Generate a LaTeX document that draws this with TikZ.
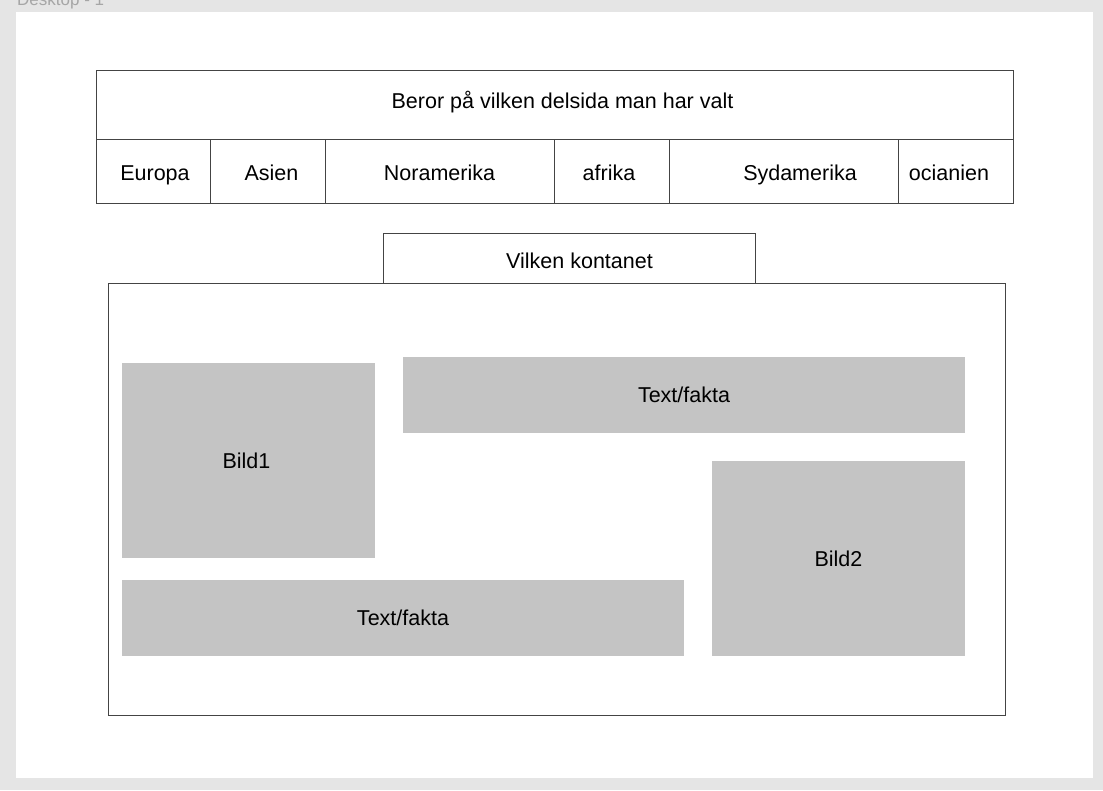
\documentclass[tikz,border=0pt]{standalone}
\usepackage{fontspec}
\setmainfont{Liberation Sans}
\usetikzlibrary{positioning}

\definecolor{canvas}{HTML}{E5E5E5}
\definecolor{placeholder}{HTML}{C4C4C4}
\definecolor{frameline}{HTML}{444444}

\begin{document}
\begin{tikzpicture}[x=1pt, y=-1pt,
    font=\fontsize{21.5}{25}\selectfont,
    box/.style={rectangle, draw=frameline, line width=1pt, inner sep=0pt, outer sep=0pt},
    cell/.style={box, minimum height=64pt},
    filler/.style={rectangle, fill=placeholder, inner sep=0pt, outer sep=0pt},
    caption/.style={text height=15.4pt, text depth=0pt, inner sep=0pt}
  ]
  \useasboundingbox (0,0) rectangle (1103,790);
  \clip (0,0) rectangle (1103,790);
  \fill[canvas] (0,0) rectangle (1103,790);
  \node[rectangle, fill=white, minimum width=1077pt, minimum height=766pt, inner sep=0pt] (desk) at (554.5,395) {};
  \node[anchor=base west, inner sep=0pt, text=black!35, font=\fontsize{17}{20}\selectfont] (desklabel) at (17,5) {Desktop - 1};

  % header with the continents
  \node[box, minimum width=917pt, minimum height=69pt,
        label={[caption, shift={(8,-3.5)}]center:Beror på vilken delsida man har valt}] (title) at (554.5,104.5) {};
  \foreach \name/\l/\r/\txt/\dx in {europa/96/210/Europa/2, asien/210/325/Asien/4,
      noram/325/554/Noramerika/0, afrika/554/669/afrika/-2.5,
      sydam/669/898/Sydamerika/16.5, ocean/898/1013/ocianien/-6.5}
    \node[cell, minimum width={\r-\l},
          label={[caption, shift={(\dx,1.5)}]center:\txt}] (\name) at ({(\l+\r)/2},171) {};

  % content area
  \node[box, minimum width=897.5pt, minimum height=432pt] (main) at (556.75,499) {};
  \node[box, minimum width=372pt, minimum height=50pt, above=0pt of main, xshift=12.75pt,
        label={[caption, shift={(10,3)}]center:Vilken kontanet}] (tab) {};

  \node[filler, minimum width=253pt, minimum height=195pt,
        label={[caption, shift={(-2,0)}]center:Bild1}] (bild1) at (248.5,460.5) {};
  \node[filler, minimum width=562pt, minimum height=76pt,
        label={[caption]center:Text/fakta}] (facttop) at (684,395) {};
  \node[filler, minimum width=253pt, minimum height=195pt,
        label={[caption]center:Bild2}] (bild2) at (838.5,558.5) {};
  \node[filler, minimum width=562pt, minimum height=76pt,
        label={[caption]center:Text/fakta}] (factbottom) at (403,618) {};
\end{tikzpicture}
\end{document}
